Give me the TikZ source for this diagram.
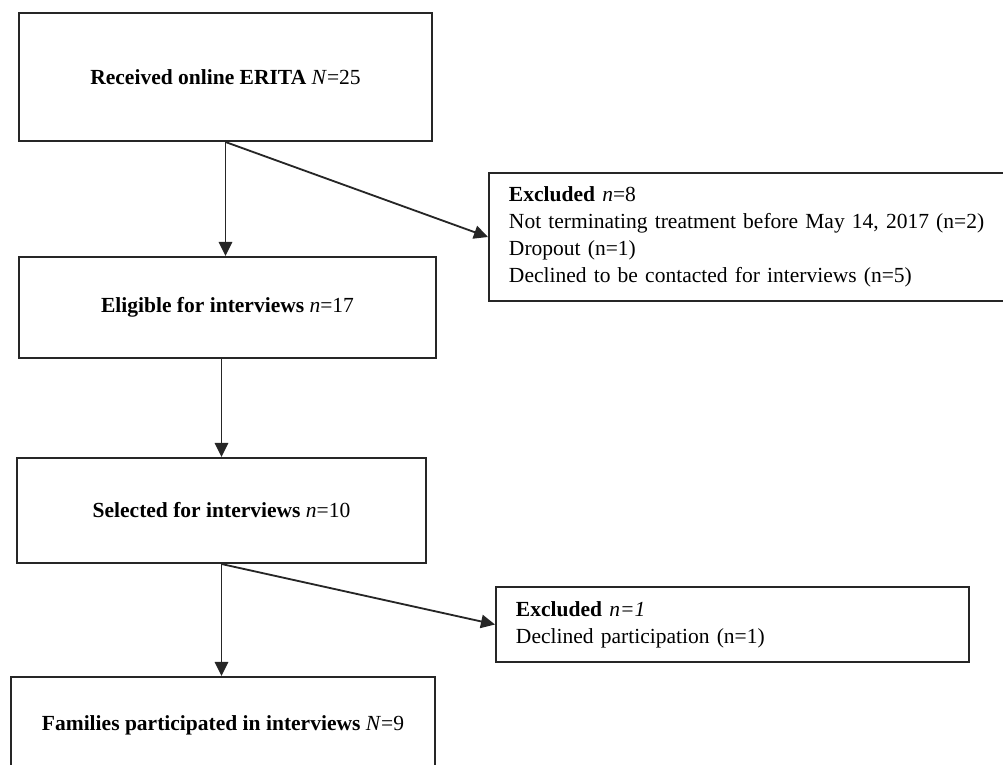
\documentclass[tikz,border=0pt]{standalone}
\usepackage{fontspec}
\setmainfont{Liberation Serif}
\usetikzlibrary{positioning, arrows.meta, calc}

\begin{document}
\begin{tikzpicture}[
    x=0.025cm, y=-0.025cm,
    >={Triangle[length=10pt, width=9.5pt]},
    box/.style={rectangle, draw=black!85, line width=1.4pt, align=center, inner sep=0pt, font=\fontsize{15.3}{19.2}\selectfont},
    note/.style={rectangle, draw=black!85, line width=1.4pt, align=left, anchor=west, inner xsep=0.5cm, inner ysep=0pt, font=\fontsize{15.3}{19.2}\selectfont},
    arr/.style={->, line width=1.3pt, color=black!85},
]

\useasboundingbox (0,0) rectangle (1003,764);

% ---- Main flow ----
\node[box, minimum width=10.325cm, minimum height=3.2cm] (recv) at (225.5, 77) {\textbf{Received online ERITA} \textit{N}=25};
\node[box, minimum width=10.425cm, minimum height=2.525cm] (elig) at (227.5, 307.5) {\textbf{Eligible for interviews} \textit{n}=17};
\node[box, minimum width=10.225cm, minimum height=2.625cm] (sel) at (221.5, 510.5) {\textbf{Selected for interviews} \textit{n}=10};
\node[box, minimum width=10.6cm, minimum height=2.4cm] (fam) at (223, 725) {\textbf{Families participated in interviews} \textit{N}=9};

% ---- Exclusions ----
\node[note, text width=12.6cm, minimum height=3.2cm] (excl1) at (488, 237) {\textbf{Excluded} \textit{n}=8\\ Not terminating treatment before May 14, 2017 (n=2)\\ Dropout (n=1)\\ Declined to be contacted for interviews (n=5)};
\node[note, text width=10.825cm, minimum height=1.875cm] (excl2) at (495, 624.5) {\textbf{Excluded} \textit{n=1}\\ Declined participation (n=1)};

% ---- Arrows ----
\draw[arr] (recv.south) -- (recv.south |- elig.north);
\draw[arr] (recv.south) -- (excl1.west);
\draw[arr] (sel.north |- elig.south) -- (sel.north);
\draw[arr] (sel.south) -- (sel.south |- fam.north);
\draw[arr] (sel.south) -- (excl2.west);

\end{tikzpicture}
\end{document}
